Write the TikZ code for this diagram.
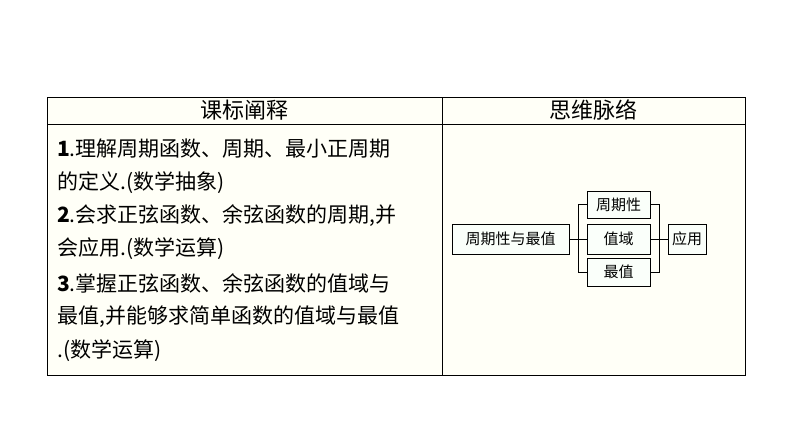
\documentclass[tikz,border=0pt]{standalone}
\usepackage{fontspec}
\setmainfont{Noto Sans CJK SC}
\begin{document}
\begin{tikzpicture}[x=1pt,y=-1pt,
  bx/.style={draw,line width=1pt,fill=white!30!green!3,inner sep=0pt,font=\fontsize{15}{15}\selectfont,anchor=center},
  ln/.style={anchor=west,font=\fontsize{21}{21}\selectfont,inner sep=0pt}]
\fill[white] (0,0) rectangle (794,447);
\useasboundingbox (0,0) rectangle (794,447);
\fill[green!4!yellow!3!white] (47,97) rectangle (745,375);
\draw[line width=1pt] (47,97) rectangle (745,375);
\draw[line width=1pt] (47,124) -- (745,124);
\draw[line width=1pt] (442,97) -- (442,375);
\node[font=\fontsize{22}{22}\selectfont] (h1) at (244,110) {课标阐释};
\node[font=\fontsize{22}{22}\selectfont] (h2) at (593,110) {思维脉络};
\node[ln] (l1) at (57,149) {\textbf{1}.理解周期函数、周期、最小正周期};
\node[ln] (l2) at (57,183) {的定义.(数学抽象)};
\node[ln] (l3) at (57,216) {\textbf{2}.会求正弦函数、余弦函数的周期,并};
\node[ln] (l4) at (57,249) {会应用.(数学运算)};
\node[ln] (l5) at (57,283) {\textbf{3}.掌握正弦函数、余弦函数的值域与};
\node[ln] (l6) at (57,317) {最值,并能够求简单函数的值域与最值};
\node[ln] (l7) at (57,351) {.(数学运算)};
\node[bx,minimum width=117,minimum height=30] (a) at (510.5,239) {周期性与最值};
\node[bx,minimum width=63,minimum height=27] (b) at (618.5,204.5) {周期性};
\node[bx,minimum width=63,minimum height=30] (c) at (618.5,239) {值域};
\node[bx,minimum width=63,minimum height=28] (d) at (618.5,272) {最值};
\node[bx,minimum width=38,minimum height=30] (e) at (687,239) {应用};
\coordinate (j1) at (578,239);
\coordinate (j2) at (659,239);
\draw[line width=1pt] (a.east) -- (c.west);
\draw[line width=1pt] (b.west) -| (j1) |- (d.west);
\draw[line width=1pt] (c.east) -- (e.west);
\draw[line width=1pt] (b.east) -| (j2) |- (d.east);
\end{tikzpicture}
\end{document}
